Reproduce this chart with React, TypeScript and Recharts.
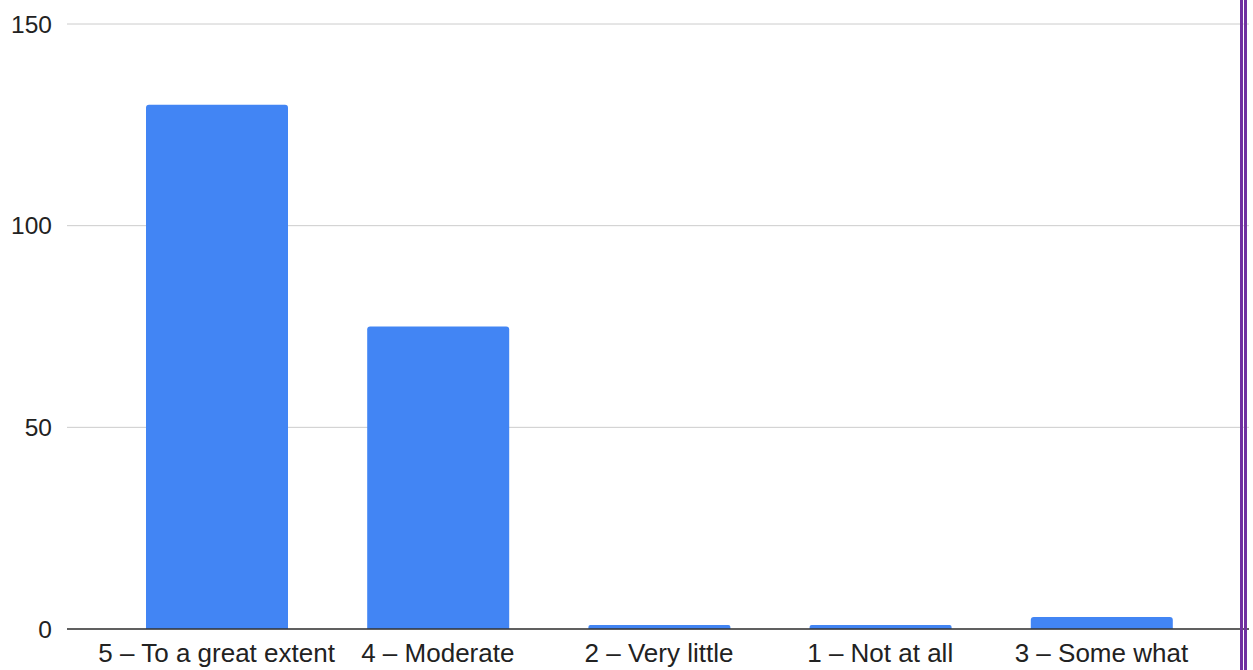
import { BarChart, Bar, XAxis, YAxis, CartesianGrid } from "recharts"

const categories = ["5 – To a great extent", "4 – Moderate", "2 – Very little", "1 – Not at all", "3 – Some what"]
const counts = [130, 75, 1, 1, 3]
const yTicks = [0, 50, 100, 150]

const data = categories.map((name, i) => ({ name, count: counts[i] }))

const font = "'Liberation Sans', Arial, sans-serif"
const xTickStyle = { fill: "#222", fontSize: 26, fontFamily: font }
const yTickStyle = { fill: "#222", fontSize: 24.5, fontFamily: font }

export default function App() {
  return (
    <div style={{ position: "absolute", left: 0, top: 0, width: 1253, height: 670, background: "#fff" }}>
      <BarChart width={1253} height={670} data={data} margin={{ top: 24, right: 4, bottom: 0, left: 0 }}>
        <CartesianGrid vertical={false} stroke="#ccc" />
        <XAxis
          dataKey="name"
          height={41}
          padding={{ left: 39, right: 37 }}
          tickLine={false}
          tickSize={0}
          tickMargin={15}
          axisLine={{ stroke: "#333", strokeWidth: 1.5 }}
          tick={xTickStyle}
          interval={0}
        />
        <YAxis
          width={67}
          domain={[0, 150]}
          ticks={yTicks}
          axisLine={false}
          tickLine={false}
          tickSize={0}
          tickMargin={15}
          tick={yTickStyle}
        />
        <Bar dataKey="count" fill="#4285f4" barSize={142} radius={[3, 3, 0, 0]} isAnimationActive={false} />
      </BarChart>
      <div style={{ position: "absolute", left: 1240, top: 0, width: 3, height: 670, background: "#7030a0" }} />
      <div style={{ position: "absolute", left: 1244, top: 0, width: 3, height: 670, background: "#7030a0" }} />
    </div>
  )
}
